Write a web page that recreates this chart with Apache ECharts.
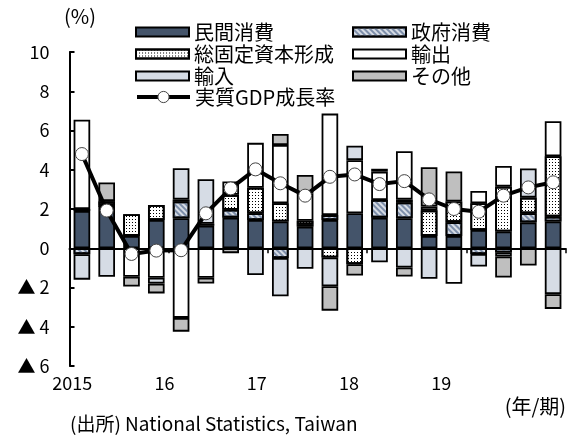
<!DOCTYPE html>
<html><head><meta charset="utf-8">
<script src="https://cdn.jsdelivr.net/npm/echarts@6/dist/echarts.min.js"></script>
<style>html,body{margin:0;padding:0;background:#fff}#c{width:572px;height:441px}</style>
</head><body><div id="c"></div>
<script>
const quarters = ['2015Q1','2015Q2','2015Q3','2015Q4','2016Q1','2016Q2','2016Q3','2016Q4','2017Q1','2017Q2','2017Q3','2017Q4','2018Q1','2018Q2','2018Q3','2018Q4','2019Q1','2019Q2','2019Q3','2019Q4'];
const yearLabels = ['2015','16','17','18','19'];
const yTickLabels = ['▲ 6','▲ 4','▲ 2','0','2','4','6','8','10'];
const privateCons = [1.9, 2.1, 0.63, 1.44, 1.53, 1.15, 1.56, 1.44, 1.36, 1.1, 1.44, 1.78, 1.56, 1.53, 0.63, 0.63, 0.93, 0.85, 1.32, 1.36];
const govCons     = [-0.3, 0.1, 0, 0, 0.85, 0.1, 0.4, 0.34, -0.5, 0.1, 0.25, 0, 0.9, 0.8, 0, 0.7, -0.29, -0.22, 0.46, 0.25];
const gfcf        = [0.1, 0.2, 1.1, 0.76, 0.1, 0, 0.76, 1.3, 0.93, 0.2, -0.47, -0.81, 0, 0.15, 1.3, 1.05, 1.36, 2.29, 0.8, 3.08];
const exportsC    = [4.55, 0, -1.45, -1.5, -3.55, -1.5, 0.68, 2.29, 2.97, 1.4, 5.17, 2.71, 1.44, 2.46, 0.2, -1.81, 0.63, 1.05, 0, 1.78];
const importsC    = [-1.3, -1.45, 0, -0.3, 1.6, 2.27, 0, -1.36, -1.95, -1.05, -1.47, 0.73, -0.71, -0.98, -1.56, 0, -0.64, -0.2, 1.49, -2.34];
const othersC     = [0, 0.95, -0.5, -0.5, -0.7, -0.3, -0.25, 0, 0.56, 0.93, -1.24, -0.58, 0.15, -0.46, 2.0, 1.53, 0, -1.07, -0.88, -0.75];
const gdpGrowth   = [4.8, 1.92, -0.29, -0.12, -0.1, 1.78, 3.05, 4.02, 3.31, 2.68, 3.64, 3.76, 3.27, 3.42, 2.49, 2.0, 1.86, 2.68, 3.1, 3.36];

const FONT = '"Noto Sans CJK JP", "Noto Sans", sans-serif';
const yMin = -6, yMax = 10, yStep = 2;
const clean = a => a.map(v => v === 0 ? '-' : v);

function barSeries(name, data, style) {
  return {
    name, type: 'bar', stack: 'total', barWidth: '67%', data: clean(data),
    xAxisIndex: 0, yAxisIndex: 0,
    itemStyle: Object.assign({ borderColor: '#000', borderWidth: 1.8 }, style),
    emphasis: { disabled: true }
  };
}

const legendText = { fontSize: 20, fontFamily: FONT, color: '#000' };
const chart = echarts.init(document.getElementById('c'), null, { renderer: 'canvas' });
chart.setOption({
  animation: false,
  backgroundColor: '#fff',
  textStyle: { fontFamily: FONT },
  grid: [
    { left: 69.5, right: 6.5, top: 52, bottom: 75 },
    { left: 26, width: 461.5, top: 360, height: 10 }
  ],
  legend: [
    {
      orient: 'vertical', left: 135, top: 22, padding: 0, itemWidth: 53, itemHeight: 9, itemGap: 2,
      textStyle: legendText,
      data: [{ name: '民間消費', icon: 'rect' }, { name: '総固定資本形成', icon: 'rect' }, { name: '輸入', icon: 'rect' }]
    },
    {
      orient: 'vertical', left: 352, top: 22, padding: 0, itemWidth: 53, itemHeight: 9, itemGap: 2,
      textStyle: legendText,
      data: [{ name: '政府消費', icon: 'rect' }, { name: '輸出', icon: 'rect' }, { name: 'その他', icon: 'rect' }]
    },
    {
      orient: 'vertical', left: 135, top: 87, padding: 0, itemWidth: 53, itemHeight: 14,
      textStyle: legendText,
      data: [{ name: '実質GDP成長率', lineStyle: { width: 4, color: '#000' }, itemStyle: { color: '#fff', borderColor: '#444', borderWidth: 1 } }]
    }
  ],
  xAxis: [
    {
      type: 'category', data: quarters, gridIndex: 0,
      axisLine: { onZero: true, lineStyle: { color: '#000', width: 2 } },
      axisTick: { show: true, interval: 3, length: 5, lineStyle: { color: '#000', width: 1.5 } },
      axisLabel: { show: false }
    },
    {
      type: 'category', data: yearLabels, gridIndex: 1,
      axisLine: { show: false }, axisTick: { show: false },
      axisLabel: { margin: 4, fontSize: 18, color: '#000', fontFamily: FONT }
    }
  ],
  yAxis: [
    {
      type: 'value', min: yMin, max: yMax, interval: yStep, gridIndex: 0,
      axisLine: { show: true, lineStyle: { color: '#000', width: 2 } },
      axisTick: { show: true, inside: true, length: 5, lineStyle: { color: '#000', width: 2 } },
      splitLine: { show: false },
      axisLabel: {
        margin: 20, fontSize: 18, color: '#000', fontFamily: FONT,
        formatter: v => yTickLabels[Math.round((v - yMin) / yStep)]
      }
    },
    { type: 'value', gridIndex: 1, show: false }
  ],
  series: [
    barSeries('民間消費', privateCons, { color: '#44546a' }),
    barSeries('政府消費', govCons, {
      color: '#d6dce5',
      decal: { symbol: 'rect', dashArrayX: [1, 0], dashArrayY: [2, 2], rotation: Math.PI / 4, color: '#7d8ea9' }
    }),
    barSeries('総固定資本形成', gfcf, {
      color: '#ffffff',
      decal: { symbol: 'rect', symbolSize: 1, dashArrayX: [1, 1.6], dashArrayY: [1, 1.6], color: '#000' }
    }),
    barSeries('輸出', exportsC, { color: '#ffffff' }),
    barSeries('輸入', importsC, { color: '#d6dce5' }),
    barSeries('その他', othersC, { color: '#bfbfbf' }),
    {
      name: '実質GDP成長率', type: 'line', data: gdpGrowth, z: 10,
      xAxisIndex: 0, yAxisIndex: 0,
      lineStyle: { color: '#000', width: 4 },
      symbol: 'circle', symbolSize: 13,
      itemStyle: { color: '#fff', borderColor: '#444', borderWidth: 1 },
      emphasis: { disabled: true }
    }
  ],
  graphic: [
    { type: 'text', left: 64, top: 6, style: { text: '(%)', font: '20px ' + FONT, fill: '#000' } },
    { type: 'text', right: 6, top: 396, style: { text: '(年/期)', font: '20px ' + FONT, fill: '#000' } },
    { type: 'text', left: 70, top: 414, style: { text: '(出所) National Statistics, Taiwan', font: '19px ' + FONT, fill: '#000' } }
  ]
});
</script>
</body></html>
